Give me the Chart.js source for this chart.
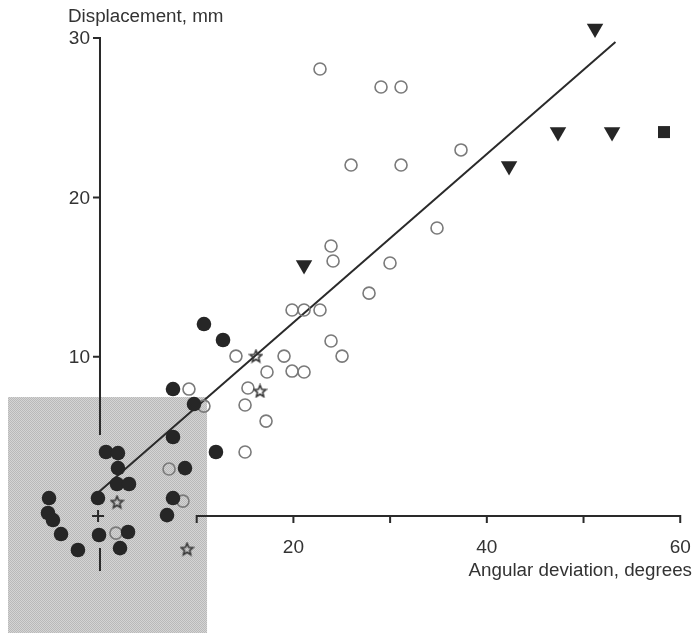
<!DOCTYPE html>
<html>
<head>
<meta charset="utf-8">
<script src="https://cdn.jsdelivr.net/npm/chart.js@4"></script>
<style>
  html, body { margin: 0; padding: 0; background: #fff; }
  #wrap { width: 693px; height: 633px; }
</style>
</head>
<body>
<div id="wrap"><canvas id="scatterChart" width="693" height="633"></canvas></div>
<script>
// values: [angular deviation (deg), displacement (mm)]
var openCircles = [
  [22.75, 28.06], [29.06, 26.93], [31.13, 26.93], [25.96, 22.03], [31.13, 22.03],
  [37.33, 22.98], [34.85, 18.08], [23.89, 16.95], [24.1, 16.01], [29.99, 15.88],
  [27.82, 13.99], [19.86, 12.93], [21.1, 12.93], [22.75, 12.93], [23.89, 10.99],
  [25.03, 10.04], [19.03, 10.04], [14.06, 10.04], [19.86, 9.1], [21.1, 9.04],
  [17.27, 9.04], [15.3, 8.04], [15.0, 6.97], [17.17, 5.96], [15.0, 4.02],
  [9.2, 7.97], [10.75, 6.9], [7.14, 2.95], [8.58, 0.94], [1.65, -1.07]
];
var filledCircles = [
  [10.75, 12.05], [12.72, 11.05], [7.55, 7.97], [9.72, 7.03], [7.55, 4.96],
  [11.99, 4.02], [8.79, 3.01], [0.62, 4.02], [1.86, 3.95], [1.86, 3.01],
  [1.76, 2.01], [3.0, 2.01], [-0.21, 1.13], [-5.27, 1.13], [7.55, 1.13],
  [-5.38, 0.19], [-4.86, -0.25], [-4.03, -1.13], [6.93, 0.06], [-0.1, -1.19],
  [2.9, -1.0], [-2.28, -2.13], [2.07, -2.01]
];
var stars = [[1.76, 0.88], [9.0, -2.07], [16.13, 10.04], [16.55, 7.85]];
var triangles = [[21.1, 15.76], [42.3, 21.97], [47.36, 24.1], [52.95, 24.1], [51.19, 30.6]];
var squares = [[58.32, 24.1]];
var originMark = [[-0.2, 0]];
var fitLine = [[-0.3, 1.42], [53.3, 29.76]];

var xTicks = [10, 20, 30, 40, 50, 60];
var xLabels = [20, 40, 60];
var yTicks = [10, 20, 30];
var xTitle = 'Angular deviation, degrees';
var yTitle = 'Displacement, mm';

// inset box and axis extents, in data units
var insetBox = { x0: -9.51, x1: 11.07, y0: 7.47 };
var yAxisTop = [30, 5.08];
var yAxisLow = [-2.01, -3.45];

function pts(arr) {
  return arr.map(function(p) { return { x: p[0], y: p[1] }; });
}

function starImage() {
  var c = document.createElement('canvas');
  c.width = 15; c.height = 15;
  var g = c.getContext('2d');
  g.strokeStyle = '#333';
  g.lineWidth = 1.6;
  g.beginPath();
  for (var i = 0; i < 10; i++) {
    var r = i % 2 ? 2.8 : 6.2;
    var a = -Math.PI / 2 + i * Math.PI / 5;
    var px = 7.5 + r * Math.cos(a), py = 8 + r * Math.sin(a);
    if (i) g.lineTo(px, py); else g.moveTo(px, py);
  }
  g.closePath();
  g.stroke();
  return c;
}

function dotPattern(ctx) {
  var c = document.createElement('canvas');
  c.width = 2; c.height = 2;
  var g = c.getContext('2d');
  g.fillStyle = '#d4d4d4';
  g.fillRect(0, 0, 2, 2);
  g.fillStyle = '#b9b9b9';
  g.fillRect(0, 0, 1, 1);
  g.fillRect(1, 1, 1, 1);
  return ctx.createPattern(c, 'repeat');
}

var figurePlugin = {
  id: 'figure',
  beforeDatasetsDraw: function(chart) {
    var ctx = chart.ctx, xs = chart.scales.x, ys = chart.scales.y;
    ctx.save();

    // shaded inset
    var bx0 = xs.getPixelForValue(insetBox.x0), bx1 = xs.getPixelForValue(insetBox.x1);
    var by0 = ys.getPixelForValue(insetBox.y0);
    ctx.fillStyle = dotPattern(ctx);
    ctx.fillRect(bx0, by0, bx1 - bx0, chart.height - by0);

    // axes
    var x0 = xs.getPixelForValue(0), y0 = ys.getPixelForValue(0);
    ctx.strokeStyle = '#2a2a2a';
    ctx.lineWidth = 2;
    ctx.beginPath();
    ctx.moveTo(x0, ys.getPixelForValue(yAxisTop[0]));
    ctx.lineTo(x0, ys.getPixelForValue(yAxisTop[1]));
    ctx.moveTo(x0, ys.getPixelForValue(yAxisLow[0]));
    ctx.lineTo(x0, ys.getPixelForValue(yAxisLow[1]));
    yTicks.forEach(function(v) {
      var p = ys.getPixelForValue(v);
      ctx.moveTo(x0 - 7, p); ctx.lineTo(x0 + 1, p);
    });
    ctx.moveTo(xs.getPixelForValue(xTicks[0]) - 1, y0);
    ctx.lineTo(xs.getPixelForValue(xTicks[xTicks.length - 1]) + 1, y0);
    xTicks.forEach(function(v) {
      var p = xs.getPixelForValue(v);
      ctx.moveTo(p, y0 - 1); ctx.lineTo(p, y0 + 7);
    });
    ctx.stroke();

    // labels
    ctx.fillStyle = '#333';
    ctx.font = '19px "Liberation Sans", Arial, sans-serif';
    ctx.textAlign = 'right';
    ctx.textBaseline = 'middle';
    yTicks.forEach(function(v) {
      ctx.fillText(String(v), x0 - 10, ys.getPixelForValue(v) + 1);
    });
    ctx.textAlign = 'center';
    xLabels.forEach(function(v) {
      ctx.fillText(String(v), xs.getPixelForValue(v), y0 + 32);
    });
    ctx.font = '18.8px "Liberation Sans", Arial, sans-serif';
    ctx.textAlign = 'right';
    ctx.fillText(xTitle, 692, y0 + 55);
    ctx.textAlign = 'left';
    ctx.textBaseline = 'alphabetic';
    ctx.fillText(yTitle, 68, 22);
    ctx.restore();
  }
};

var ctx = document.getElementById('scatterChart').getContext('2d');
var star = starImage();

var myChart = new Chart(ctx, {
  type: 'scatter',
  data: {
    datasets: [{
      label: 'fit',
      type: 'line',
      data: pts(fitLine),
      borderColor: '#2a2a2a',
      borderWidth: 2,
      pointRadius: 0,
      fill: false,
      order: 5
    }, {
      label: 'open',
      data: pts(openCircles),
      pointStyle: 'circle',
      pointRadius: 6,
      backgroundColor: 'rgba(0,0,0,0)',
      borderColor: '#7a7a7a',
      borderWidth: 1.6,
      order: 2
    }, {
      label: 'filled',
      data: pts(filledCircles),
      pointStyle: 'circle',
      pointRadius: 7.3,
      backgroundColor: '#262626',
      borderColor: '#262626',
      borderWidth: 0,
      order: 1
    }, {
      label: 'stars',
      data: pts(stars),
      pointStyle: star,
      pointRadius: 7,
      order: 1
    }, {
      label: 'triangles',
      data: pts(triangles),
      pointStyle: 'triangle',
      rotation: 180,
      pointRadius: 9.5,
      backgroundColor: '#262626',
      borderColor: '#262626',
      borderWidth: 0,
      order: 1
    }, {
      label: 'squares',
      data: pts(squares),
      pointStyle: 'rect',
      pointRadius: 8.5,
      backgroundColor: '#262626',
      borderColor: '#262626',
      borderWidth: 0,
      order: 1
    }, {
      label: 'origin',
      data: pts(originMark),
      pointStyle: 'cross',
      pointRadius: 6,
      borderColor: '#2a2a2a',
      borderWidth: 2,
      order: 1
    }]
  },
  options: {
    responsive: false,
    animation: false,
    clip: false,
    layout: { padding: 0, autoPadding: false },
    plugins: { legend: { display: false }, tooltip: { enabled: false } },
    scales: {
      x: { type: 'linear', min: -10.34, max: 61.32, display: false },
      y: { type: 'linear', min: -7.34, max: 32.39, display: false }
    }
  },
  plugins: [figurePlugin]
});
</script>
</body>
</html>
